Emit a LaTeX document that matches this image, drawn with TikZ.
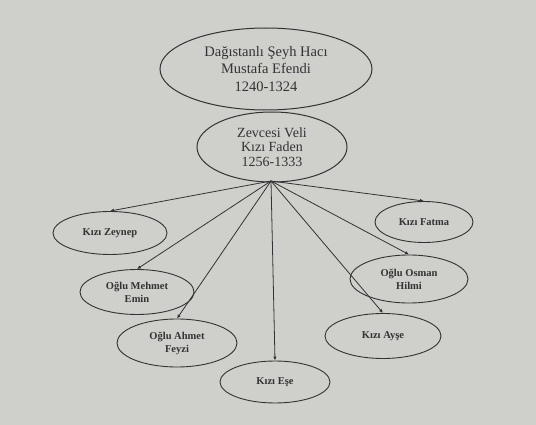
\documentclass[tikz,border=0pt]{standalone}
\usepackage{fontspec}
\setmainfont{Liberation Serif}
\usetikzlibrary{shapes.geometric,arrows.meta}
\definecolor{paper}{HTML}{CFCFCC}
\definecolor{ink}{HTML}{333333}
\tikzset{
  big/.style={ellipse,draw=ink,line width=1pt,inner sep=0pt,align=center,text=ink,font=\fontsize{14.5}{17.5}\selectfont},
  kid/.style={ellipse,draw=ink,line width=0.9pt,inner sep=0pt,align=center,text=ink,font=\bfseries\fontsize{10.5}{13}\selectfont},
  link/.style={draw=ink,line width=0.8pt,-{Latex[length=4pt,width=3.5pt]}}
}
\begin{document}
\begin{tikzpicture}[x=1pt,y=-1pt]
\fill[paper] (0,0) rectangle (536,425);
\useasboundingbox (0,0) rectangle (536,425);
\node[big,minimum width=212pt,minimum height=82pt] (sheyh) at (266,69) {Dağıstanlı Şeyh Hacı\\Mustafa Efendi\\1240-1324};
\node[big,minimum width=150pt,minimum height=70pt,font=\fontsize{14}{14.5}\selectfont] (faden) at (272,147) {Zevcesi Veli\\Kızı Faden\\1256-1333};
\coordinate (hub) at (271,181);
\node[kid,minimum width=114pt,minimum height=43pt] (zeynep) at (110,233) {Kızı Zeynep};
\node[kid,minimum width=114pt,minimum height=45pt] (mehmet) at (137,292) {Oğlu Mehmet\\Emin};
\node[kid,minimum width=120pt,minimum height=48pt] (ahmet) at (177,343) {Oğlu Ahmet\\Feyzi};
\node[kid,minimum width=110pt,minimum height=42pt] (ese) at (275,382) {Kızı Eşe};
\node[kid,minimum width=98pt,minimum height=41pt] (fatma) at (424,222) {Kızı Fatma};
\node[kid,minimum width=118pt,minimum height=48pt] (osman) at (409,279) {Oğlu Osman\\Hilmi};
\node[kid,minimum width=116pt,minimum height=45pt] (ayse) at (383,336) {Kızı Ayşe};
\draw[link] (hub) -- (zeynep.north);
\draw[link] (hub) -- (mehmet.north);
\draw[link] (hub) -- (ahmet.north);
\draw[link] (hub) -- (ese.north);
\draw[link] (hub) -- (fatma.north);
\draw[link] (hub) -- (osman.north);
\draw[link] (hub) -- (ayse.north);
\end{tikzpicture}
\end{document}
